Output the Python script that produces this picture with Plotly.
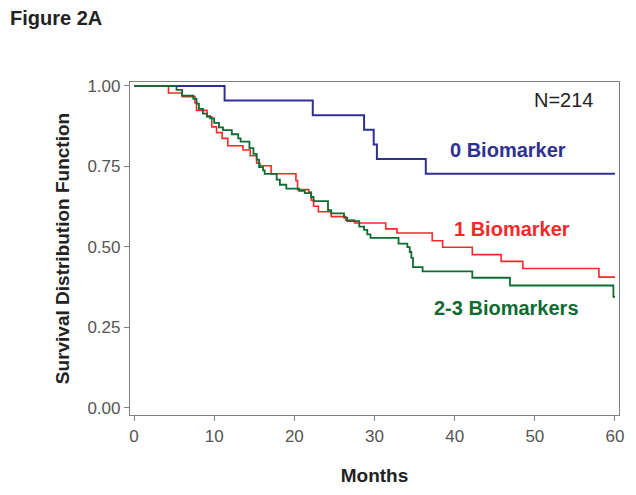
import plotly.graph_objects as go

# Kaplan-Meier curves (step points: month, survival)
months_0 = [0, 11.3, 22.3, 28.7, 29.9, 30.3, 36.4, 60.0]
surv_0 = [1.0, 0.955, 0.909, 0.864, 0.818, 0.773, 0.727, 0.727]

months_1 = [0, 4.3, 6.0, 7.6, 7.8, 9.1, 9.7, 10.3, 11.0, 11.7, 13.6, 14.5,
            15.3, 15.7, 17.1, 20.2, 20.4, 21.8, 22.1, 22.4, 23.0, 24.6, 26.4,
            27.5, 31.4, 32.8, 37.2, 38.5, 42.2, 45.8, 48.5, 58.0, 60.0]
surv_1 = [1.0, 0.978, 0.967, 0.948, 0.924, 0.904, 0.873, 0.855, 0.837, 0.814,
          0.801, 0.783, 0.760, 0.752, 0.727, 0.706, 0.678, 0.670, 0.645, 0.626,
          0.609, 0.594, 0.583, 0.574, 0.556, 0.543, 0.519, 0.499, 0.476, 0.455,
          0.433, 0.406, 0.406]

months_23 = [0, 5.3, 6.0, 7.4, 7.8, 8.1, 8.6, 9.1, 9.5, 10.0, 10.6, 11.1, 12.2,
             13.0, 13.3, 14.4, 14.9, 15.3, 15.6, 16.1, 16.3, 17.8, 18.2, 19.0,
             20.6, 21.3, 22.1, 22.4, 24.2, 24.6, 26.2, 26.6, 28.1, 28.7, 29.1,
             29.5, 33.0, 34.1, 34.4, 34.6, 34.8, 36.0, 42.2, 46.9, 59.8, 60.0]
surv_23 = [1.0, 0.988, 0.970, 0.960, 0.945, 0.929, 0.914, 0.906, 0.899, 0.885,
           0.871, 0.863, 0.850, 0.837, 0.827, 0.807, 0.789, 0.771, 0.748, 0.738,
           0.727, 0.709, 0.693, 0.681, 0.674, 0.667, 0.655, 0.642, 0.614, 0.604,
           0.591, 0.580, 0.563, 0.553, 0.539, 0.528, 0.510, 0.499, 0.484, 0.466,
           0.437, 0.424, 0.404, 0.380, 0.345, 0.345]

x_ticks = [0, 10, 20, 30, 40, 50, 60]
y_ticks = [0, 0.25, 0.5, 0.75, 1.0]

FONT = "Arial, Liberation Sans, sans-serif"
BLUE = "#2E3192"
RED = "#F42A2A"
GREEN = "#0F6B32"

fig = go.Figure()

fig.add_trace(go.Scatter(x=months_0, y=surv_0, mode="lines", line_shape="hv",
                         line=dict(color=BLUE, width=2), name="0 Biomarker"))
fig.add_trace(go.Scatter(x=months_1, y=surv_1, mode="lines", line_shape="hv",
                         line=dict(color=RED, width=1.6), name="1 Biomarker"))
fig.add_trace(go.Scatter(x=months_23, y=surv_23, mode="lines", line_shape="hv",
                         line=dict(color=GREEN, width=1.8), name="2-3 Biomarkers"))

# curve labels
fig.add_annotation(x=53.6, y=0.957, text="N=214", showarrow=False,
                   font=dict(family=FONT, size=20, color="#222222"))
fig.add_annotation(x=46.6, y=0.80, text="<b>0 Biomarker</b>", showarrow=False,
                   font=dict(family=FONT, size=20, color=BLUE))
fig.add_annotation(x=47.2, y=0.555, text="<b>1 Biomarker</b>", showarrow=False,
                   font=dict(family=FONT, size=20, color=RED))
fig.add_annotation(x=46.5, y=0.309, text="<b>2-3 Biomarkers</b>", showarrow=False,
                   font=dict(family=FONT, size=20, color=GREEN))

# figure tag, top left of the page
fig.add_annotation(xref="paper", yref="paper", x=-0.25, y=1.232,
                   text="<b>Figure 2A</b>", showarrow=False,
                   xanchor="left", yanchor="top",
                   font=dict(family=FONT, size=20, color="#222222"))

fig.update_layout(
    width=636, height=495,
    margin=dict(l=130, r=15, t=82, b=76),
    paper_bgcolor="white", plot_bgcolor="white",
    showlegend=False,
    font=dict(family=FONT),
)

fig.update_xaxes(
    range=[-0.5, 60.5], tickvals=x_ticks, ticks="outside", ticklen=5,
    tickcolor="#808080", showgrid=False, zeroline=False,
    showline=True, linecolor="#808080", linewidth=1.2, mirror=True,
    tickfont=dict(family=FONT, size=17, color="#555555"),
    title=dict(text="<b>Months</b>", standoff=24,
               font=dict(family=FONT, size=19, color="#222222")),
)
fig.update_yaxes(
    range=[-0.0224, 1.0123], tickvals=y_ticks, tickformat=".2f",
    ticks="outside", ticklen=5, tickcolor="#808080",
    showgrid=False, zeroline=False,
    showline=True, linecolor="#808080", linewidth=1.2, mirror=True,
    tickfont=dict(family=FONT, size=17, color="#555555"),
    title=dict(text="<b>Survival Distribution Function</b>", standoff=12,
               font=dict(family=FONT, size=19, color="#222222")),
)

# drop the browser's default body margin so the figure fills the window
fig.write_html("out.html", config={"displayModeBar": False},
               post_script="document.body.style.margin='0';"
                           "document.body.style.overflow='hidden';")
